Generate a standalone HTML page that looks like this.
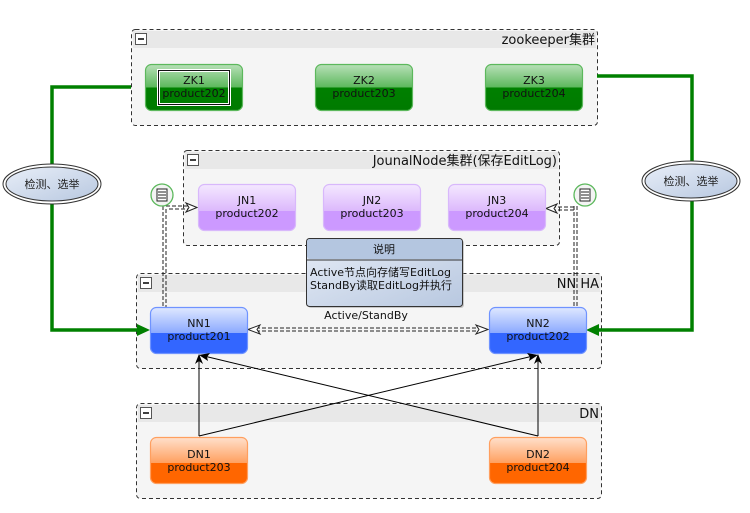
<!DOCTYPE html>
<html><head><meta charset="utf-8"><style>
html,body{margin:0;padding:0;background:#fff}
svg{display:block;font-family:"DejaVu Sans","Liberation Sans","Noto Sans CJK SC",sans-serif}
</style></head><body>
<svg width="750" height="513" viewBox="0 0 750 513" xmlns="http://www.w3.org/2000/svg">
<defs>
<linearGradient id="gz" x1="0" y1="0" x2="0" y2="1"><stop offset="0" stop-color="#b8e0b8"/><stop offset="0.5" stop-color="#5cb85c"/><stop offset="0.5" stop-color="#008000"/><stop offset="1" stop-color="#007a00"/></linearGradient>
<linearGradient id="gj" x1="0" y1="0" x2="0" y2="1"><stop offset="0" stop-color="#f4e8ff"/><stop offset="0.58" stop-color="#dcb8fc"/><stop offset="0.58" stop-color="#cc99ff"/><stop offset="1" stop-color="#cc99ff"/></linearGradient>
<linearGradient id="gn" x1="0" y1="0" x2="0" y2="1"><stop offset="0" stop-color="#dfe8ff"/><stop offset="0.55" stop-color="#8caaff"/><stop offset="0.55" stop-color="#3366ff"/><stop offset="1" stop-color="#3366ff"/></linearGradient>
<linearGradient id="gd" x1="0" y1="0" x2="0" y2="1"><stop offset="0" stop-color="#ffe0cc"/><stop offset="0.55" stop-color="#ffa060"/><stop offset="0.55" stop-color="#ff6600"/><stop offset="1" stop-color="#ff6600"/></linearGradient>
<linearGradient id="ge" x1="0" y1="0" x2="1" y2="1"><stop offset="0" stop-color="#e8eef8"/><stop offset="1" stop-color="#b8c8e0"/></linearGradient>
<linearGradient id="gnote" x1="0" y1="0" x2="1" y2="1"><stop offset="0" stop-color="#e6ecf6"/><stop offset="1" stop-color="#b8c8e0"/></linearGradient>
</defs>

<g stroke="#333" stroke-width="1" stroke-dasharray="4,3">
<rect x="131.5" y="29.5" width="466" height="96" rx="4" fill="#f5f5f5"/>
<rect x="183.5" y="150.5" width="376" height="95" rx="4" fill="#f5f5f5"/>
<rect x="136.5" y="273.5" width="465" height="95" rx="4" fill="#f5f5f5"/>
<rect x="136.5" y="403.5" width="465" height="95" rx="4" fill="#f5f5f5"/>
</g>
<g fill="#e8e8e8">
<rect x="133" y="31" width="463" height="17"/>
<rect x="185" y="152" width="373" height="17"/>
<rect x="138" y="275" width="462" height="17"/>
<rect x="138" y="405" width="462" height="17"/>
</g>
<g fill="#fff" stroke="#555">
<rect x="135.5" y="33.5" width="11" height="11"/><rect x="187.5" y="154.5" width="11" height="11"/>
<rect x="140.5" y="277.5" width="11" height="11"/><rect x="140.5" y="407.5" width="11" height="11"/>
</g>
<g stroke="#000" stroke-width="1.5"><line x1="138" y1="39" x2="144" y2="39"/><line x1="190" y1="160" x2="196" y2="160"/><line x1="143" y1="283" x2="149" y2="283"/><line x1="143" y1="413" x2="149" y2="413"/></g>
<g font-size="13" fill="#111" text-anchor="end">
<text x="595" y="44">zookeeper集群</text>
<text x="557" y="165">JounalNode集群(保存EditLog)</text>
<text x="599" y="288">NN HA</text>
<text x="599" y="418">DN</text>
</g>

<g fill="none" stroke="#008000" stroke-width="3.5">
<polyline points="131,87 52,87 52,330 140,330"/>
<polyline points="597,76 692,76 692,330 596,330"/>
</g>
<polygon points="150,330 137,324 137,336" fill="#008000"/>
<polygon points="586,330 599,324 599,336" fill="#008000"/>
<g>
<ellipse cx="52" cy="184" rx="49" ry="20" fill="#fff" stroke="#333"/>
<ellipse cx="52" cy="184" rx="46" ry="17" fill="url(#ge)" stroke="#333"/>
<text x="52" y="188" font-size="11" text-anchor="middle" fill="#222">检测、选举</text>
<ellipse cx="691" cy="181" rx="49" ry="20" fill="#fff" stroke="#333"/>
<ellipse cx="691" cy="181" rx="46" ry="17" fill="url(#ge)" stroke="#333"/>
<text x="691" y="185" font-size="11" text-anchor="middle" fill="#222">检测、选举</text>
</g>

<g fill="none" stroke="#222" stroke-width="1" stroke-dasharray="4,2">
<line x1="163" y1="206" x2="163" y2="307"/><line x1="166" y1="209" x2="166" y2="307"/>
<line x1="166" y1="206" x2="192" y2="206"/><line x1="169" y1="209" x2="192" y2="209"/>
<line x1="574" y1="206" x2="574" y2="307"/><line x1="577" y1="206" x2="577" y2="307"/>
<line x1="574" y1="207" x2="552" y2="207"/><line x1="574" y1="210" x2="552" y2="210"/>
<line x1="256" y1="328" x2="480" y2="328"/><line x1="256" y1="331" x2="480" y2="331"/>
</g>
<g fill="#fff" stroke="#222">
<polygon points="197,207.5 186,203 189,207.5 186,212"/>
<polygon points="546,208.5 557,204 554,208.5 557,213"/>
<polygon points="248,329.5 260,325 257,329.5 260,334"/>
<polygon points="488,329.5 476,325 479,329.5 476,334"/>
</g>
<text x="366" y="319" font-size="11" text-anchor="middle" fill="#111">Active/StandBy</text>

<g>
<circle cx="162" cy="195" r="11" fill="#f4f4f4" stroke="#5cb85c" stroke-width="1.3"/>
<rect x="157" y="189" width="10" height="12" fill="#fff" stroke="#222"/>
<g stroke="#222"><line x1="158" y1="192" x2="166" y2="192"/><line x1="158" y1="195" x2="166" y2="195"/><line x1="158" y1="198" x2="166" y2="198"/></g>
<circle cx="585" cy="195" r="11" fill="#f4f4f4" stroke="#5cb85c" stroke-width="1.3"/>
<rect x="580" y="189" width="10" height="12" fill="#fff" stroke="#222"/>
<g stroke="#222"><line x1="581" y1="192" x2="589" y2="192"/><line x1="581" y1="195" x2="589" y2="195"/><line x1="581" y1="198" x2="589" y2="198"/></g>
</g>

<g stroke-width="1.2">
<rect x="145.5" y="64.5" width="97" height="46" rx="6" fill="url(#gz)" stroke="#5cb85c"/>
<rect x="315.5" y="64.5" width="97" height="46" rx="6" fill="url(#gz)" stroke="#5cb85c"/>
<rect x="485.5" y="64.5" width="97" height="46" rx="6" fill="url(#gz)" stroke="#5cb85c"/>
<rect x="158.5" y="70.5" width="71" height="34" fill="none" stroke="#fff" stroke-width="3"/>
<rect x="158.5" y="70.5" width="71" height="34" fill="none" stroke="#111" stroke-width="1"/>
<rect x="198.5" y="184.5" width="97" height="46" rx="6" fill="url(#gj)" stroke="#d8b8fb"/>
<rect x="323.5" y="184.5" width="97" height="46" rx="6" fill="url(#gj)" stroke="#d8b8fb"/>
<rect x="448.5" y="184.5" width="97" height="46" rx="6" fill="url(#gj)" stroke="#d8b8fb"/>
<rect x="150.5" y="307.5" width="97" height="46" rx="6" fill="url(#gn)" stroke="#6f93ff"/>
<rect x="489.5" y="307.5" width="97" height="46" rx="6" fill="url(#gn)" stroke="#6f93ff"/>
<rect x="150.5" y="437.5" width="97" height="46" rx="6" fill="url(#gd)" stroke="#ff9f5f"/>
<rect x="489.5" y="437.5" width="97" height="46" rx="6" fill="url(#gd)" stroke="#ff9f5f"/>
</g>
<g font-size="11" text-anchor="middle" fill="#111">
<text x="194" y="84">ZK1</text><text x="194" y="97">product202</text>
<text x="364" y="84">ZK2</text><text x="364" y="97">product203</text>
<text x="534" y="84">ZK3</text><text x="534" y="97">product204</text>
<text x="247" y="204">JN1</text><text x="247" y="217">product202</text>
<text x="372" y="204">JN2</text><text x="372" y="217">product203</text>
<text x="497" y="204">JN3</text><text x="497" y="217">product204</text>
<text x="199" y="327">NN1</text><text x="199" y="340">product201</text>
<text x="538" y="327">NN2</text><text x="538" y="340">product202</text>
<text x="199" y="458">DN1</text><text x="199" y="471">product203</text>
<text x="538" y="458">DN2</text><text x="538" y="471">product204</text>
</g>

<g stroke="#000" stroke-width="1" fill="none">
<line x1="199" y1="436" x2="199" y2="357"/>
<line x1="538" y1="436" x2="538" y2="357"/>
<line x1="199" y1="436" x2="533" y2="356"/>
<line x1="538" y1="436" x2="204" y2="356"/>
</g>
<g fill="#000">
<polygon points="199,354 195,364 199,361 203,364"/>
<polygon points="538,354 534,364 538,361 542,364"/>
<polygon points="538,355 527,353 530,357 529,361"/>
<polygon points="199,355 210,353 207,357 208,361"/>
</g>

<rect x="308" y="240" width="156" height="68" rx="3" fill="#999" opacity="0.5"/>
<rect x="306.5" y="238.5" width="156" height="68" rx="3" fill="url(#gnote)" stroke="#333"/>
<rect x="307" y="239" width="155" height="20" rx="3" fill="#b4c6e0"/>
<line x1="307" y1="260" x2="462" y2="260" stroke="#333"/>
<text x="384" y="253" font-size="11" text-anchor="middle" fill="#111">说明</text>
<text x="310" y="276" font-size="11" fill="#111">Active节点向存储写EditLog</text>
<text x="310" y="289" font-size="11" fill="#111">StandBy读取EditLog并执行</text>
</svg>
</body></html>
